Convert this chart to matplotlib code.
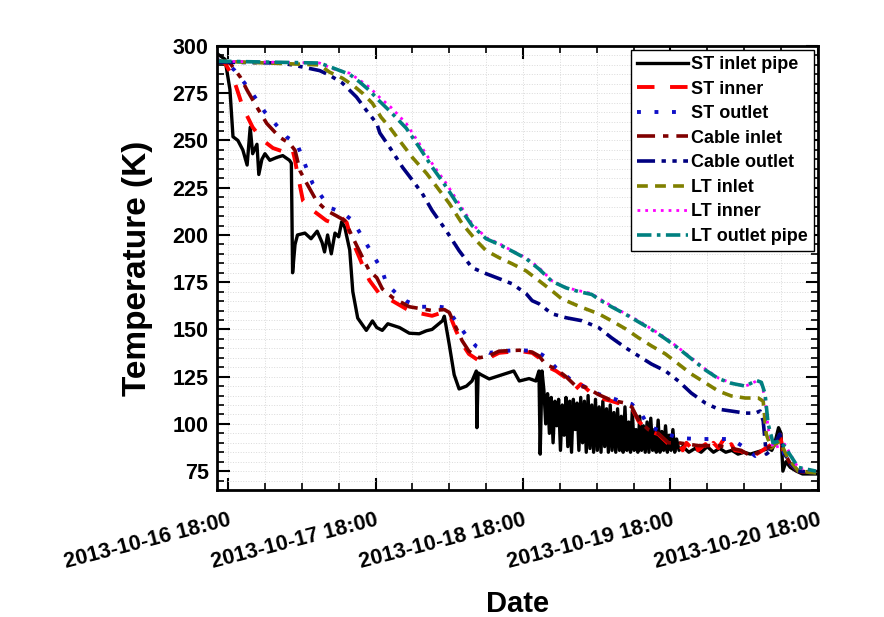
import matplotlib
matplotlib.use('Agg')
import matplotlib.pyplot as plt
import matplotlib.dates as mdates
from matplotlib.ticker import MultipleLocator
import pandas as pd

t0 = pd.Timestamp('2013-10-16 18:00')

# hours after 2013-10-16 18:00 and temperature (K)
st_inlet_h = [-1.8, -0.5, 0.3, 0.8, 1.6, 2.4, 3.1, 3.6, 4.0, 4.7, 5.0, 5.5, 6.0, 6.8, 7.9, 8.9, 10.0, 10.3,
              10.5, 10.9, 11.3, 12.5, 13.5, 14.5, 15.3, 15.7, 16.2, 16.8, 17.4, 18.0, 18.5, 19.0, 19.8, 20.3,
              21.1, 22.5, 23.5, 24.2, 25.1, 26.0, 27.9, 29.5, 31.1, 32.3, 33.2, 34.9, 35.2, 36.0, 36.8, 37.6,
              38.8, 39.7, 40.4, 40.5, 40.7, 41.2, 42.5, 44.1, 46.5, 47.4, 49.0, 50.1, 50.6, 50.8, 51.1,
              51.4, 51.7, 52.0, 52.3, 52.6, 52.9, 53.2, 53.5, 53.8, 54.1, 54.4, 54.7, 55.0, 55.3, 55.6, 55.9,
              56.2, 56.5, 56.8, 57.1, 57.4, 57.7, 58.0, 58.3, 58.6, 58.9, 59.2, 59.5, 59.8, 60.1, 60.4, 60.7,
              61.0, 61.3, 61.6, 61.9, 62.2, 62.5, 62.8, 63.1, 63.4, 63.7, 64.0, 64.3, 64.6, 64.9, 65.2, 65.5,
              65.8, 66.1, 66.4, 66.7, 67.0, 67.3, 67.6, 67.9, 68.2, 68.5, 68.8, 69.1, 69.4, 69.7, 70.0, 70.3,
              70.6, 70.9, 71.2, 71.5, 71.8, 72.1, 72.4, 72.7, 73.0, 73.4, 74.0, 75.0, 76.0, 77.0, 78.0, 79.0,
              80.0, 81.0, 82.0, 83.0, 84.0, 85.0, 86.0, 87.0, 88.0, 88.5, 89.0, 89.6, 90.0, 90.3, 90.8, 91.5,
              92.5, 93.5, 95.7]
st_inlet_T = [296, 293, 277, 252, 250, 245, 237, 257, 243, 248, 232, 240, 243, 239.5, 241, 242, 239.5, 238,
              180, 195, 200, 201, 198, 202, 196, 191, 200, 190, 201, 199, 207, 204, 192, 170,
              156, 149.5, 154.5, 151, 149.5, 153, 151, 148, 147.7, 149.3, 150, 154.6, 157, 142, 126, 118.5,
              120, 122.7, 128, 98, 127, 126, 123.8, 125.5, 128, 122.7, 124, 122.7, 128, 84, 128,
              118, 100, 116, 95, 114, 90, 112, 99, 113, 86, 110, 94, 114, 88, 112, 85,
              113, 97, 111, 86, 114, 90, 112, 85, 115, 87, 110, 85, 113, 86, 109, 85,
              112, 88, 108, 85, 110, 86, 106, 85, 108, 86, 104, 85, 109, 86, 101, 85,
              107, 86, 97, 85, 104, 86, 99, 85, 101, 85, 103, 86, 97, 85, 102, 85,
              96, 86, 99, 85, 94, 86, 97, 85, 92, 86, 88, 85, 87, 85, 88, 85,
              87, 85, 86, 84, 85, 84, 85, 86, 87, 86, 90, 98, 95, 75, 80, 77,
              75, 73.5, 73.5]

st_inner_h = [-1.8, -0.5, 0.8, 1.5, 2.4, 4.0, 5.7, 7.3, 10.0, 10.5, 10.9, 11.2, 12.2, 13.8, 16.0, 17.4, 18.5,
              19.3, 19.8, 20.9, 21.9, 23.0, 24.6, 26.8, 29.5, 31.6, 33.2, 34.9, 36.0, 37.1, 38.1, 39.2, 40.9,
              42.5, 44.1, 47.4, 49.5, 50.6, 51.7, 53.4, 55.0, 56.6, 57.4, 58.2, 59.2, 60.3, 61.3, 62.4, 63.5,
              64.7, 65.7, 66.8, 68.4, 70.0, 71.7, 73.3, 74.0, 74.6, 75.4, 76.0, 76.5, 77.7, 78.3, 79.0, 79.8,
              80.5, 81.0, 81.9, 82.5, 83.5, 85.1, 86.0, 86.8, 87.9, 89.0, 89.8, 90.3, 91.1, 92.8, 95.7]
st_inner_T = [292.6, 291, 283.5, 276.6, 267.6, 257, 250, 246, 243, 245, 239.5, 234, 218, 213, 207.6, 206, 209,
              206.6, 200.7, 191.7, 184, 176, 169, 165, 159.9, 158.3, 157.2, 159, 158.3, 149.3, 142.4, 137, 133.3,
              135, 137.6, 138.6, 137.6, 135, 130.7, 128, 124.3, 118.5, 121, 119, 116, 114.8, 113, 112.1, 111,
              110.5, 108.4, 101.5, 96.2, 94.6, 89.3, 90, 86, 90, 87.2, 91, 86, 89.3, 85, 90, 87.2,
              91, 86, 89.3, 86, 85.6, 81.9, 84, 85.6, 88, 90, 95, 86, 80, 75, 74]

st_outlet_h = [-1.8, -0.2, 1.1, 2.3, 3.6, 4.7, 6.0, 7.9, 9.6, 11.2, 12.8, 13.8, 16.5, 18.5, 20.3, 21.9, 23.5,
               25.1, 25.8, 27.4, 29.0, 31.1, 34.4, 35.5, 37.3, 38.8, 40.4, 42.5, 44.6, 47.4, 50.1, 51.9, 53.4,
               55.0, 56.6, 58.7, 60.3, 62.4, 64.0, 65.7, 67.3, 68.4, 71.2, 73.3, 76.5, 79.3, 81.9, 84.2, 85.8,
               87.4, 88.4, 89.8, 90.5, 91.5, 92.8, 95.7]
st_outlet_T = [292.6, 291, 287, 282, 276.6, 271.3, 265, 258, 251.7, 248.5, 235, 227, 214.5, 212, 207.6, 198.6, 190,
               181, 174, 169, 165, 162, 162, 161.5, 153.5, 146.6, 141, 137.6, 138.6, 139, 138.6, 135, 129.6,
               125.5, 121.2, 119, 115.8, 113.7, 112, 110.5, 105.2, 98.9, 95.1, 92.5, 92, 92, 92, 87.2, 83,
               86, 88, 94, 84, 79, 75, 74]

cable_inlet_h = [-1.8, 0.3, 2.0, 3.1, 4.7, 6.3, 8.4, 10.0, 10.9, 11.7, 12.8, 14.4, 16.0, 17.7, 19.0, 20.3, 21.9,
                 23.0, 24.2, 25.1, 26.8, 29.5, 33.2, 35.2, 36.0, 37.1, 38.1, 39.2, 40.9, 42.5, 44.1, 47.4, 49.5,
                 50.6, 51.7, 53.4, 55.0, 56.6, 58.2, 60.3, 62.4, 64.7, 65.7, 66.8, 68.4, 70.0, 71.7, 73.3, 76.5,
                 79.8, 83.5, 85.1, 87.0, 88.4, 89.8, 90.5, 91.5, 92.8, 95.7]
cable_inlet_T = [292, 291, 283.5, 276.6, 267.6, 259, 251.7, 248.5, 244.8, 234, 227.3, 218, 213, 210, 207.6, 198.6, 188,
                 181, 177.4, 171.5, 166.8, 162, 160, 160.5, 159, 151, 144, 138.5, 135, 136, 138.5, 139, 138,
                 136, 131.5, 129, 125, 120, 119.5, 115.5, 112.5, 111, 109, 102, 97, 95, 90, 90, 88.5,
                 88.5, 86, 83, 86, 88, 93, 85, 79, 75, 74]

cable_outlet_h = [-1.8, 8.4, 10.5, 14.9, 16.5, 18.6, 20.9, 22.5, 24.2, 24.7, 26.3, 28.4, 30.0, 31.6, 33.2, 35.5,
                  37.6, 39.7, 42.0, 44.1, 46.2, 48.5, 49.5, 50.6, 52.7, 55.0, 57.6, 60.3, 62.4, 64.7, 66.8, 68.9,
                  71.2, 73.3, 75.4, 77.7, 79.8, 81.9, 84.2, 85.8, 86.6, 87.1, 87.4, 87.6, 88.4, 89.8, 90.6, 91.5,
                  92.8, 95.7]
cable_outlet_T = [291.5, 291, 290, 287, 284.6, 280.4, 273, 266, 259, 254, 246.4, 235.8, 229, 222, 213, 202.3,
                  191.7, 182.7, 179.5, 176.9, 174.2, 169, 165.2, 163.6, 158.3, 156.2, 154.6, 151, 145.6, 140.3, 136, 131.7,
                  128, 122.7, 116.3, 111, 107.8, 106.8, 105.7, 105.7, 106.8, 101.5, 91, 84, 86, 94.6, 84, 79,
                  75, 74]

lt_inlet_h = [-1.8, 14.9, 16.5, 18.6, 20.3, 21.9, 23.5, 24.9, 26.3, 27.9, 30.0, 32.3, 34.4, 36.0, 38.1, 40.4,
              42.0, 44.1, 46.2, 48.5, 50.6, 52.7, 54.3, 57.3, 60.3, 62.4, 64.7, 66.8, 68.9, 71.2, 73.3, 75.4,
              77.7, 79.8, 81.9, 84.2, 86.3, 87.1, 87.6, 88.4, 89.8, 91.1, 92.8, 95.7]
lt_inlet_T = [292, 290, 286.2, 283, 279.3, 275, 269.7, 262.3, 257, 250, 241, 232.6, 223.6, 216.7, 206, 197,
              191.7, 188, 184.8, 181, 175.8, 170.5, 166.2, 162, 158.3, 154.6, 150.3, 145.6, 141.3, 137, 131.7, 126.4,
              121.7, 117.4, 114.8, 113.7, 113.7, 112, 94.6, 87.2, 91, 82, 75, 74]

lt_inner_h = [-1.8, 14.9, 17.0, 19.8, 21.4, 23.0, 24.6, 26.5, 29.0, 31.1, 33.2, 35.5, 37.6, 39.7, 42.0, 44.1,
              46.2, 48.5, 50.6, 52.7, 55.0, 57.1, 59.2, 60.3, 62.4, 64.7, 66.8, 68.9, 71.2, 73.3, 75.4, 77.7,
              79.8, 81.9, 84.2, 85.1, 86.0, 86.8, 87.4, 87.9, 88.7, 90.6, 92.8, 95.7]
lt_inner_T = [292, 291, 288, 285.6, 282, 278.2, 273, 267.6, 259, 248.5, 237.9, 227.3, 216.7, 206, 198.6, 195.5,
              191.7, 188, 182.7, 175.8, 172.2, 170.5, 169, 166.5, 162.5, 158.3, 154.6, 150.3, 145.6, 140.3, 135, 129,
              124.3, 121.7, 120, 121.2, 122.7, 121.2, 113.7, 97.8, 87.2, 89.3, 76.6, 75]

lt_outlet_h = [-1.8, 14.9, 17.0, 19.8, 21.4, 23.0, 24.6, 26.5, 29.0, 31.1, 33.2, 35.5, 37.6, 39.7, 42.0, 44.1,
               46.2, 48.5, 50.6, 52.7, 55.0, 57.1, 59.2, 60.3, 62.4, 64.7, 66.8, 68.9, 71.2, 73.3, 75.4, 77.7,
               79.8, 81.9, 84.2, 85.1, 86.0, 86.8, 87.4, 87.9, 88.7, 89.8, 90.6, 92.8, 95.7]
lt_outlet_T = [292, 291, 288.5, 285, 281, 276.5, 271, 265, 256.5, 246.5, 236, 225.5, 215, 205, 198, 195,
               191.5, 187.5, 182, 175.5, 172, 170, 168.5, 166, 162, 158, 154, 150, 145, 140, 134.5, 128.5,
               124, 121.5, 120, 121.5, 123, 122, 116, 100, 90, 91, 88, 77, 75]

def to_dates(hours):
    return t0 + pd.to_timedelta(hours, unit='h')

series = [
    ('ST inlet pipe', st_inlet_h, st_inlet_T, 'black', 2.4, None),
    ('ST inner', st_inner_h, st_inner_T, '#ff0000', 2.8, (4.5, 4)),
    ('ST outlet', st_outlet_h, st_outlet_T, '#1010c8', 2.8, (1, 3.5)),
    ('Cable inlet', cable_inlet_h, cable_inlet_T, '#800000', 2.6, (5, 2.2, 1.5, 2.2)),
    ('Cable outlet', cable_outlet_h, cable_outlet_T, '#000080', 2.6, (5, 1.8, 1.2, 1.8, 1.2, 1.8)),
    ('LT inlet', lt_inlet_h, lt_inlet_T, '#808000', 2.6, (3, 2)),
    ('LT inner', lt_inner_h, lt_inner_T, '#ff00ff', 2.0, (1, 1.8)),
    ('LT outlet pipe', lt_outlet_h, lt_outlet_T, '#008080', 2.6, (4, 1.5, 1, 1.5)),
]

fig = plt.figure(figsize=(8.84, 6.17), dpi=100)
ax = fig.add_axes([0.2455, 0.2058, 0.6797, 0.7196])

for (name, h, T, col, lw, dash) in series:
    ln, = ax.plot(to_dates(h), T, color=col, lw=lw, label=name)
    if dash is not None:
        ln.set_dashes(dash)

ax.set_xlim(to_dates([-1.8])[0], to_dates([96])[0])
ax.set_ylim(65, 300)

ax.xaxis.set_major_locator(mdates.HourLocator(byhour=[18]))
ax.xaxis.set_minor_locator(mdates.HourLocator(byhour=[0, 6, 12]))
ax.xaxis.set_major_formatter(mdates.DateFormatter('%Y-%m-%d %H:%M'))
ax.yaxis.set_major_locator(MultipleLocator(25))
ax.yaxis.set_minor_locator(MultipleLocator(5))

ax.grid(which='both', ls=':', color='#dadada', lw=0.7)
ax.tick_params(which='both', direction='in', top=True, right=True)
ax.tick_params(which='major', length=9, width=1.5, labelsize=15.5, pad=6)
ax.tick_params(axis='x', which='major', pad=14)
ax.tick_params(which='minor', length=5, width=1.2)
for sp in ax.spines.values():
    sp.set_linewidth(2)

for lab in ax.get_yticklabels():
    lab.set_fontweight('bold')
    lab.set_family('Liberation Sans')
for lab in ax.get_xticklabels():
    lab.set_fontweight('bold')
    lab.set_family('Liberation Sans')
    lab.set_fontsize(15.5)
    lab.set_rotation(14.5)
    lab.set_ha('right')
    lab.set_rotation_mode('anchor')

ax.set_ylabel('Temperature (K)', fontsize=24, fontweight='bold', family='Liberation Sans', labelpad=14)
ax.set_xlabel('Date', fontsize=21, fontweight='bold', family='Liberation Sans')
ax.xaxis.set_label_coords(0.5, -0.225)

leg = ax.legend(loc='upper right', prop={'family': 'Liberation Sans', 'weight': 'bold', 'size': 13},
                frameon=True, fancybox=False, framealpha=1, edgecolor='black', borderaxespad=0.2,
                handlelength=2.8, handletextpad=0.2, labelspacing=0.42, borderpad=0.35)
leg.get_frame().set_linewidth(1)

fig.savefig('out.png', dpi=100)
